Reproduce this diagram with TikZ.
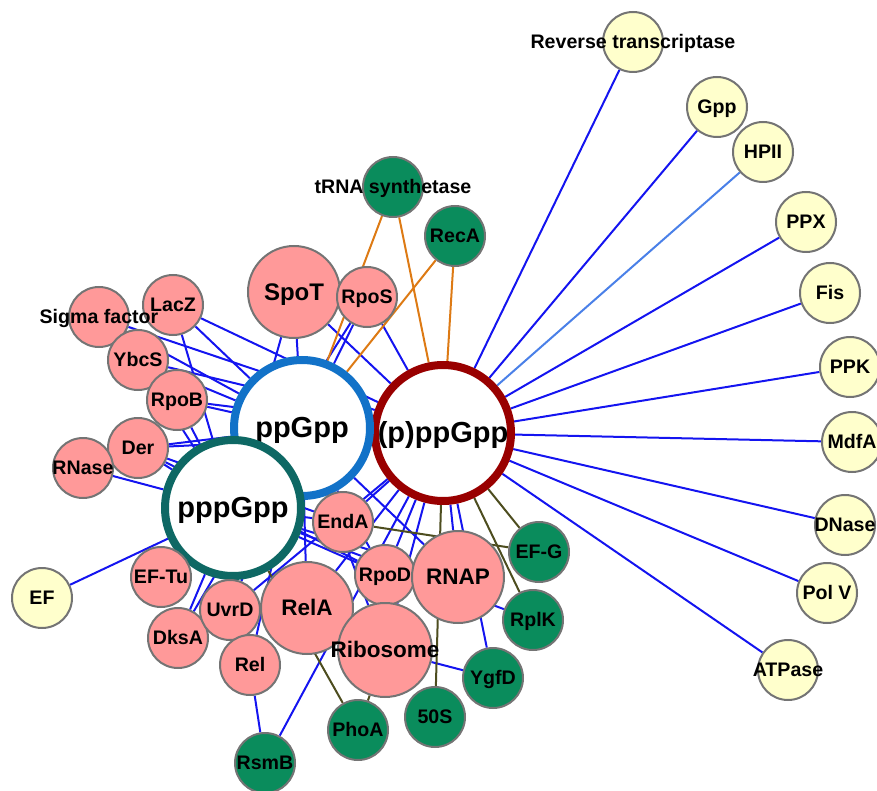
\documentclass[tikz,border=0pt]{standalone}
\usepackage{fontspec}
\setmainfont{Liberation Sans}
\pgfdeclarelayer{background}
\pgfsetlayers{background,main}
\definecolor{pinkfill}{HTML}{FF9999}
\definecolor{greenfill}{HTML}{0A8C5C}
\definecolor{yellowfill}{HTML}{FFFFCC}
\definecolor{nodeborder}{HTML}{747474}
\definecolor{edgeblue}{HTML}{1414F0}
\definecolor{edgelight}{HTML}{4A80E8}
\definecolor{edgeorange}{HTML}{DD7A14}
\definecolor{edgeolive}{HTML}{4D4D1F}
\definecolor{ringblue}{HTML}{1272C8}
\definecolor{ringred}{HTML}{990000}
\definecolor{ringteal}{HTML}{0E6864}
\newcommand{\nlab}[1]{\smash{\makebox[0pt]{#1}}\vphantom{X}}
\begin{document}
\begin{tikzpicture}[x=1pt,y=-1pt,
  base/.style={circle, draw=nodeborder, line width=2pt, inner sep=0pt,
    font=\fontsize{19.6}{21}\selectfont\bfseries},
  small/.style={base, minimum size=60pt},
  pinknode/.style={small, fill=pinkfill},
  greennode/.style={small, fill=greenfill},
  yellownode/.style={small, fill=yellowfill},
  bignode/.style={base, fill=pinkfill, minimum size=92pt,
    font=\fontsize{22.5}{24}\selectfont\bfseries},
  hub/.style={circle, fill=white, line width=8pt, minimum size=136pt, inner sep=0pt,
    font=\fontsize{29}{30}\selectfont\bfseries},
  toplabel/.style={inner sep=0pt, font=\fontsize{19.6}{21}\selectfont\bfseries},
  eb/.style={draw=edgeblue, line width=2pt},
  el/.style={draw=edgelight, line width=2pt},
  eo/.style={draw=edgeorange, line width=2pt},
  ev/.style={draw=edgeolive, line width=2pt}]
\useasboundingbox (0,0) rectangle (877,791);
% hubs
\node[hub, draw=ringred] (pp2) at (443,433) {\nlab{(p)ppGpp}};
\node[hub, draw=ringblue] (pp) at (302,428) {\nlab{ppGpp}};
\node[hub, draw=ringteal] (ppp) at (233,508) {\nlab{pppGpp}};
% yellow nodes
\node[yellownode] (rt) at (633,42) {\nlab{Reverse transcriptase}};
\node[yellownode] (gpp) at (717,107) {\nlab{Gpp}};
\node[yellownode] (hpii) at (763,152) {\nlab{HPII}};
\node[yellownode] (ppx) at (806,222) {\nlab{PPX}};
\node[yellownode] (fis) at (830,293) {\nlab{Fis}};
\node[yellownode] (ppk) at (850,367) {\nlab{PPK}};
\node[yellownode] (mdfa) at (852,442) {\nlab{MdfA}};
\node[yellownode] (dnase) at (845,525) {\nlab{DNase}};
\node[yellownode] (polv) at (827,593) {\nlab{Pol V}};
\node[yellownode] (atpase) at (788,670) {\nlab{ATPase}};
\node[yellownode] (ef) at (42,598) {\nlab{EF}};
% green nodes
\node[greennode] (trna) at (393,187) {\nlab{tRNA synthetase}};
\node[greennode] (reca) at (455,236) {\nlab{RecA}};
\node[greennode] (efg) at (539,552) {\nlab{EF-G}};
\node[greennode] (rplk) at (533,620) {\nlab{RplK}};
\node[greennode] (ygfd) at (493,678) {\nlab{YgfD}};
\node[greennode] (s50) at (435,717) {\nlab{50S}};
\node[greennode] (phoa) at (358,730) {\nlab{PhoA}};
\node[greennode] (rsmb) at (265,763) {\nlab{RsmB}};
% pink nodes
\node[bignode, font=\fontsize{24}{26}\selectfont\bfseries] (spot) at (294,292) {\nlab{SpoT}};
\node[pinknode] (rpos) at (367,297) {\nlab{RpoS}};
\node[pinknode] (sigma) at (99,317) {};
\node[pinknode] (lacz) at (173,305) {\nlab{LacZ}};
\node[pinknode] (ybcs) at (138,360) {\nlab{YbcS}};
\node[pinknode] (rpob) at (177,400) {\nlab{RpoB}};
\node[pinknode] (der) at (138,448) {\nlab{Der}};
\node[pinknode] (rnase) at (83,468) {\nlab{RNase}};
\node[pinknode] (enda) at (343,522) {\nlab{EndA}};
\node[pinknode] (eftu) at (161,577) {\nlab{EF-Tu}};
\node[pinknode] (dksa) at (178,638) {\nlab{DksA}};
\node[pinknode] (uvrd) at (230,610) {\nlab{UvrD}};
\node[pinknode] (rel) at (250,665) {\nlab{Rel}};
\node[pinknode] (rpod) at (385,575) {\nlab{RpoD}};
\node[bignode] (rnap) at (458,577) {\nlab{RNAP}};
\node[bignode] (rela) at (307,608) {\nlab{RelA}};
\node[bignode, minimum size=94pt] (ribo) at (385,650) {\nlab{Ribosome}};
% label drawn over neighbouring circles
\node[toplabel] (sigmalab) at (sigma) {\nlab{Sigma factor}};
% edges
\begin{pgfonlayer}{background}
\foreach \t in {rt,gpp,ppx,fis,ppk,mdfa,dnase,polv,atpase}
  \draw[eb] (pp2) -- (\t);
\draw[el] (pp2) -- (hpii);
\draw[eb] (ppp) -- (ef);
\draw[eb] (spot) -- (pp);
\draw[eb] (spot) -- (ppp);
\draw[eb] (spot) -- (pp2);
\draw[eb] (rpos) -- (pp);
\draw[eb] (rpos) -- (ppp);
\draw[eb] (rpos) -- (pp2);
\draw[eb] (lacz) -- (pp);
\draw[eb] (lacz) -- (ppp);
\draw[eb] (lacz) -- (pp2);
\draw[eb] (sigma) -- (pp);
\draw[eb] (sigma) -- (pp2);
\draw[eb] (ybcs) -- (pp);
\draw[eb] (ybcs) -- (ppp);
\draw[eb] (ybcs) -- (pp2);
\draw[eb] (rpob) -- (pp);
\draw[eb] (rpob) -- (ppp);
\draw[eb] (rpob) -- (pp2);
\draw[eb] (der) -- (pp);
\draw[eb] (der) -- (ppp);
\draw[eb] (der) -- (pp2);
\draw[eb] (der) -- (enda);
\draw[eb] (der) -- (rpod);
\draw[eb] (rnase) -- (ppp);
\draw[eb] (eftu) -- (ppp);
\draw[eb] (eftu) -- (pp);
\draw[eb] (dksa) -- (ppp);
\draw[eb] (dksa) -- (pp);
\draw[eb] (uvrd) -- (pp);
\draw[eb] (uvrd) -- (pp2);
\draw[eb] (rel) -- (pp);
\draw[eb] (rel) -- (rsmb);
\draw[eb] (rela) -- (pp);
\draw[eb] (rela) -- (pp2);
\draw[eb] (rsmb) -- (pp2);
\draw[eb] (enda) -- (pp);
\draw[eb] (enda) -- (ppp);
\draw[eb] (enda) -- (pp2);
\draw[eb] (rpod) -- (pp);
\draw[eb] (rpod) -- (ppp);
\draw[eb] (rpod) -- (pp2);
\draw[eb] (rnap) -- (pp2);
\draw[eb] (rnap) -- (pp);
\draw[eb] (rnap) -- (ppp);
\draw[eb] (ygfd) -- (pp2);
\draw[eb] (ribo) -- (ygfd);
\draw[eb] (ribo) -- (pp);
\draw[eb] (ribo) -- (pp2);
\draw[eb] (rplk) -- (ppp);
\draw[ev] (pp2) -- (efg);
\draw[ev] (pp2) -- (rplk);
\draw[ev] (pp2) -- (s50);
\draw[ev] (enda) -- (efg);
\draw[ev] (ppp) -- (phoa);
\draw[ev] (ribo) -- (phoa);
\draw[eo] (trna) -- (pp);
\draw[eo] (trna) -- (pp2);
\draw[eo] (reca) -- (pp);
\draw[eo] (reca) -- (pp2);
\end{pgfonlayer}
\end{tikzpicture}
\end{document}
